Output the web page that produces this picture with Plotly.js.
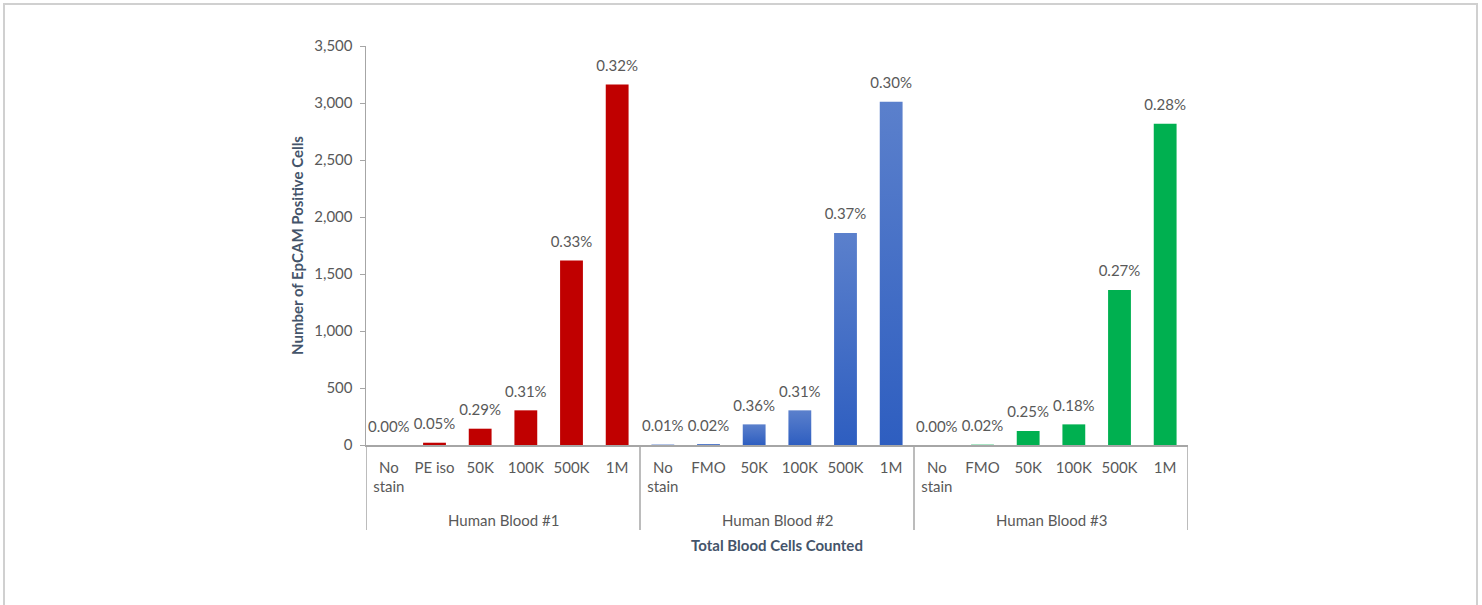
<!DOCTYPE html>
<html>
<head>
<meta charset="utf-8">
<script src="https://cdn.plot.ly/plotly-3.0.1.min.js"></script>
<style>
  html, body { margin: 0; padding: 0; background: #ffffff; }
  #wrap { position: relative; width: 1482px; height: 605px; overflow: hidden; }
  #chart { width: 1482px; height: 605px; }
  #frame {
    position: absolute; left: 3px; top: 3px; width: 1471px; height: 604px;
    border: 2px solid #d0d0d0; pointer-events: none;
  }
</style>
</head>
<body>
<div id="wrap">
  <div id="chart"></div>
  <div id="frame"></div>
</div>
<script>
// Sample groups and the stain / cell-count conditions within each
const groupNames = ['Human Blood #1', 'Human Blood #2', 'Human Blood #3'];
const conditions1 = ['No<br>stain', 'PE iso', '50K', '100K', '500K', '1M'];
const conditions2 = ['No<br>stain', 'FMO', '50K', '100K', '500K', '1M'];
const conditions3 = ['No<br>stain', 'FMO', '50K', '100K', '500K', '1M'];

// EpCAM positive cell counts
const counts1 = [0, 20, 143, 304, 1618, 3162];
const counts2 = [4, 8, 181, 304, 1860, 3012];
const counts3 = [0, 3, 123, 181, 1360, 2817];

// Percentage of EpCAM positive cells
const pct1 = ['0.00%', '0.05%', '0.29%', '0.31%', '0.33%', '0.32%'];
const pct2 = ['0.01%', '0.02%', '0.36%', '0.31%', '0.37%', '0.30%'];
const pct3 = ['0.00%', '0.02%', '0.25%', '0.18%', '0.27%', '0.28%'];

const barColors = ['#C00000', '#4472C4', '#00B050'];

const FONT = 'Lato, "Open Sans", sans-serif';
const labelColor = '#595959';
const titleColor = '#44546A';
const axisGrey = '#A6A6A6';

// Flatten the three groups into one ordered series; each bar gets a unique key
const keys = [], tickLabels = [], countsAll = [], pctAll = [], colorsAll = [];
const groupSpans = [];
[[conditions1, counts1, pct1], [conditions2, counts2, pct2], [conditions3, counts3, pct3]]
  .forEach(([conds, vals, pcts], gi) => {
    const start = keys.length;
    conds.forEach((c, i) => {
      keys.push(groupNames[gi] + ' / ' + c.replace('<br>', ' '));
      tickLabels.push(c);
      countsAll.push(vals[i]);
      pctAll.push(pcts[i]);
      colorsAll.push(barColors[gi]);
    });
    groupSpans.push([start, keys.length - 1]);
  });

const bars = {
  type: 'bar',
  x: keys,
  y: countsAll,
  marker: { color: colorsAll, line: { width: 0 } },
  hoverinfo: 'x+y',
  showlegend: false
};

// Percentage labels floated above each bar (markers hidden, they only set the offset)
const labels = {
  type: 'scatter',
  mode: 'markers+text',
  x: keys,
  y: countsAll,
  text: pctAll,
  textposition: 'top center',
  textfont: { family: FONT, size: 15, color: labelColor },
  marker: { size: 14, opacity: 0 },
  cliponaxis: false,
  hoverinfo: 'skip',
  showlegend: false
};

// Group dividers below the axis and group names centred under each block
const divBottom = -0.213;
const shapes = [];
const annotations = [];
groupSpans.forEach(([a, b], gi) => {
  if (gi === 0) {
    shapes.push({ type: 'line', xref: 'x', yref: 'paper', x0: a - 0.5, x1: a - 0.5, y0: 0, y1: divBottom,
      line: { color: axisGrey, width: 1.5 } });
  }
  shapes.push({ type: 'line', xref: 'x', yref: 'paper', x0: b + 0.5, x1: b + 0.5, y0: 0, y1: divBottom,
    line: { color: axisGrey, width: 1.5 } });
  annotations.push({
    xref: 'x', yref: 'paper', x: (a + b) / 2, y: -0.188, yanchor: 'middle', xanchor: 'center',
    text: groupNames[gi], showarrow: false,
    font: { family: FONT, size: 15, color: labelColor }
  });
});

const layout = {
  width: 1482,
  height: 605,
  margin: { l: 366, r: 294, t: 46, b: 160 },
  paper_bgcolor: '#ffffff',
  plot_bgcolor: '#ffffff',
  bargap: 0.5,
  font: { family: FONT, size: 15, color: labelColor },
  shapes: shapes,
  annotations: annotations,
  xaxis: {
    type: 'category',
    range: [-0.5, keys.length - 0.5],
    tickmode: 'array',
    tickvals: keys,
    ticktext: tickLabels,
    tickangle: 0,
    showline: true,
    linecolor: axisGrey,
    linewidth: 1.5,
    ticks: '',
    ticklabelstandoff: 8,
    tickfont: { family: FONT, size: 15, color: labelColor },
    showgrid: false,
    zeroline: false,
    title: {
      text: '<b>Total Blood Cells Counted</b>',
      font: { family: FONT, size: 15, color: titleColor },
      standoff: 46
    }
  },
  yaxis: {
    range: [0, 3500],
    dtick: 500,
    tickformat: ',',
    showline: true,
    linecolor: axisGrey,
    linewidth: 1.5,
    ticks: 'outside',
    ticklen: 5,
    tickcolor: axisGrey,
    ticklabelstandoff: 4,
    showgrid: false,
    zeroline: false,
    tickfont: { family: FONT, size: 15, color: labelColor },
    title: {
      text: '<b>Number of EpCAM Positive Cells</b>',
      font: { family: FONT, size: 15, color: titleColor },
      standoff: 7
    }
  }
};

// Vertical shading on the blue bars: lighter at the top, deeper at the base
function shadeBlueBars(gd) {
  const svg = gd.querySelector('svg.main-svg');
  if (!svg) return;
  const ns = 'http://www.w3.org/2000/svg';
  let defs = svg.querySelector('defs');
  if (!defs) {
    defs = document.createElementNS(ns, 'defs');
    svg.insertBefore(defs, svg.firstChild);
  }
  if (!svg.querySelector('#blueShade')) {
    const g = document.createElementNS(ns, 'linearGradient');
    g.setAttribute('id', 'blueShade');
    g.setAttribute('x1', '0'); g.setAttribute('y1', '0');
    g.setAttribute('x2', '0'); g.setAttribute('y2', '1');
    [['0', '#5B80CC'], ['1', '#2E5EC0']].forEach(([o, c]) => {
      const s = document.createElementNS(ns, 'stop');
      s.setAttribute('offset', o);
      s.setAttribute('stop-color', c);
      g.appendChild(s);
    });
    defs.appendChild(g);
  }
  const pts = gd.querySelectorAll('.barlayer .trace .point path');
  pts.forEach((p, i) => {
    if (colorsAll[i] === barColors[1]) p.style.fill = 'url(#blueShade)';
  });
}

Plotly.newPlot('chart', [bars, labels], layout, { displayModeBar: false, staticPlot: true }).then(gd => {
  shadeBlueBars(gd);
  gd.on('plotly_afterplot', () => shadeBlueBars(gd));
});
</script>
</body>
</html>
